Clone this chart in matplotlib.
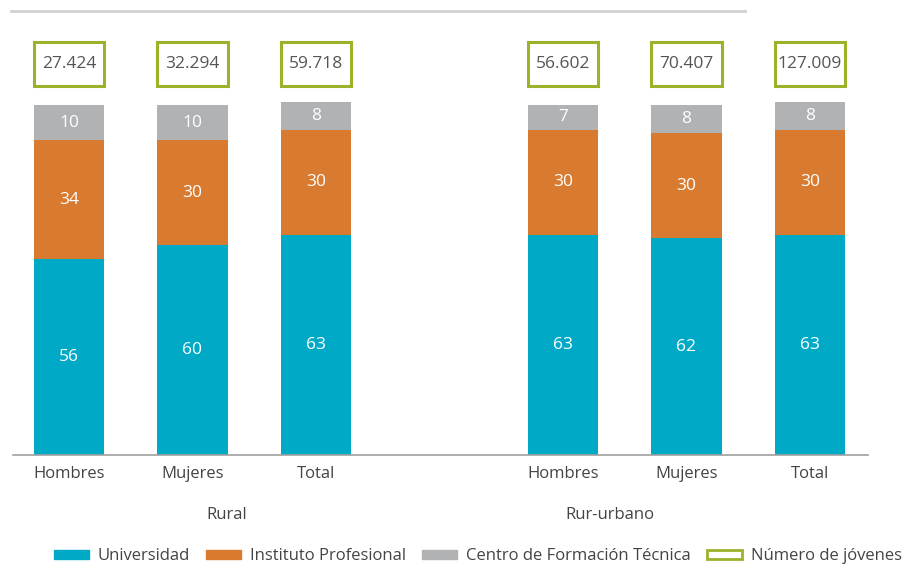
import matplotlib.pyplot as plt
import matplotlib.patches as mpatches
from matplotlib.lines import Line2D
from matplotlib.transforms import blended_transform_factory

plt.rcParams['font.family'] = ['Open Sans', 'DejaVu Sans']

# data
categorias = ["Hombres", "Mujeres", "Total", "Hombres", "Mujeres", "Total"]
grupos = ["Rural", "Rur-urbano"]
posiciones = [0, 1, 2, 4, 5, 6]
universidad = [56, 60, 63, 63, 62, 63]
instituto = [34, 30, 30, 30, 30, 30]
centro = [10, 10, 8, 7, 8, 8]
jovenes = ["27.424", "32.294", "59.718", "56.602", "70.407", "127.009"]

c_univ = "#00A9C6"
c_inst = "#D87B30"
c_cft = "#B1B2B4"
c_green = "#9BB22A"
c_text = "#444444"

fig = plt.figure(figsize=(9.05, 5.65), dpi=100)
ax = fig.add_axes([13 / 905, 1 - 455 / 565, 855 / 905, 444 / 565])

w = 0.57
b1 = ax.bar(posiciones, universidad, width=w, color=c_univ)
b2 = ax.bar(posiciones, instituto, width=w, bottom=universidad, color=c_inst)
base3 = [u + i for u, i in zip(universidad, instituto)]
b3 = ax.bar(posiciones, centro, width=w, bottom=base3, color=c_cft)

for bars, vals in [(b1, universidad), (b2, instituto), (b3, centro)]:
    for rect, v in zip(bars, vals):
        ax.text(rect.get_x() + rect.get_width() / 2, rect.get_y() + rect.get_height() / 2,
                str(v), ha="center", va="center", color="white", fontsize=12.5)

# boxes with number of young people
for x, t in zip(posiciones, jovenes):
    ax.add_patch(mpatches.Rectangle((x - w / 2, 105.6), w, 12.4, facecolor="white",
                                    edgecolor=c_green, lw=2.2, clip_on=False))
    ax.text(x, 111.8, t, ha="center", va="center", color="#555555", fontsize=12.5)

ax.set_xlim(-0.453, 6.47)
ax.set_ylim(0, 126.9)
ax.set_xticks(posiciones)
ax.set_xticklabels(categorias, fontsize=12, color=c_text)
ax.tick_params(axis="x", length=0, pad=8)
ax.set_yticks([])
for s in ["top", "left", "right"]:
    ax.spines[s].set_visible(False)
ax.spines["bottom"].set_color("#a0a0a0")
ax.spines["bottom"].set_linewidth(1.2)

trans = blended_transform_factory(ax.transData, fig.transFigure)
ax.text(1.28, 1 - 515 / 565, grupos[0], transform=trans, ha="center", va="center",
        fontsize=12, color=c_text)
ax.text(4.38, 1 - 515 / 565, grupos[1], transform=trans, ha="center", va="center",
        fontsize=12, color=c_text)

# top rule
fig.add_artist(Line2D([11 / 905, 745 / 905], [1 - 11 / 565, 1 - 11 / 565],
                      color="#d0d0d0", lw=2))

handles = [mpatches.Patch(color=c_univ), mpatches.Patch(color=c_inst),
           mpatches.Patch(color=c_cft),
           mpatches.Patch(facecolor="white", edgecolor=c_green, lw=2)]
labels = ["Universidad", "Instituto Profesional", "Centro de Formación Técnica",
          "Número de jóvenes"]
leg = fig.legend(handles, labels, loc="center", bbox_to_anchor=(0.528, 1 - 556 / 565),
                 ncol=4, frameon=False, fontsize=12, handlelength=2.1, handleheight=0.45,
                 columnspacing=1.0, handletextpad=0.5)
for t in leg.get_texts():
    t.set_color(c_text)

fig.savefig("out.png", dpi=100)
